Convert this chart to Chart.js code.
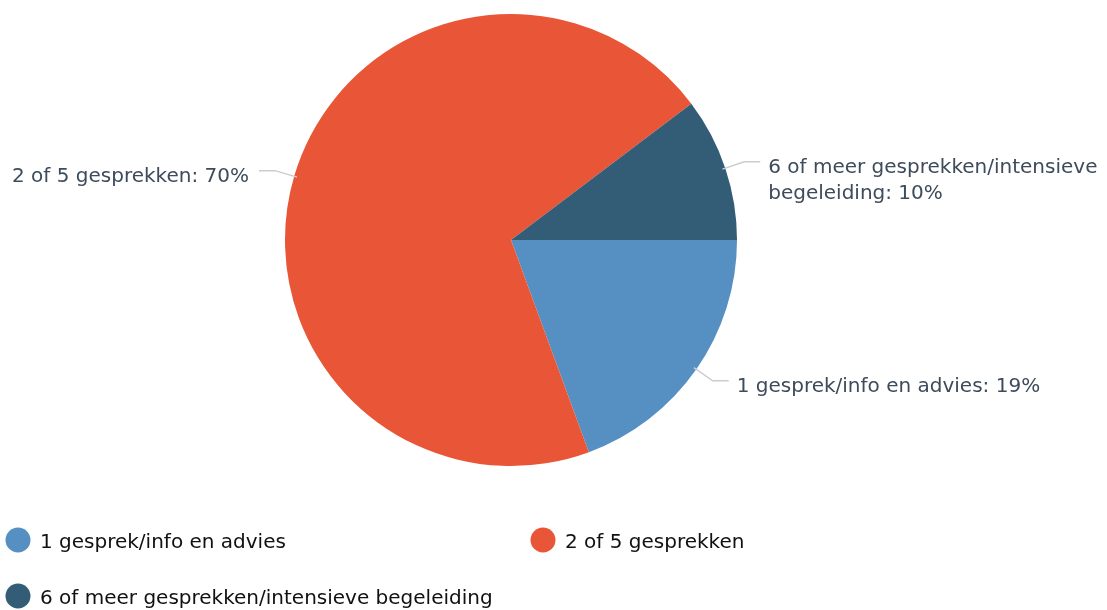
<!DOCTYPE html>
<html><head><meta charset="utf-8">
<script src="https://cdn.jsdelivr.net/npm/chart.js@4/dist/chart.umd.min.js"></script>
<style>html,body{margin:0;padding:0;background:#fff}#wrap{width:1107px;height:610px;position:relative}</style>
</head><body><div id="wrap"><canvas id="c" width="1107" height="610"></canvas></div>
<script>
const categories = ["1 gesprek/info en advies", "2 of 5 gesprekken", "6 of meer gesprekken/intensieve begeleiding"];
const values = [19.4, 70.3, 10.3];
const valueLabels = ["19%", "70%", "10%"];
const colors = ["#568fc2", "#e95637", "#335c77"];

const FONT = "'DejaVu Sans', sans-serif";

const labelPlugin = {
  id: 'leaderLabels',
  afterDatasetsDraw(chart) {
    const ctx = chart.ctx;
    const meta = chart.getDatasetMeta(0);
    ctx.save();
    ctx.font = "20px " + FONT;
    ctx.textBaseline = 'middle';
    meta.data.forEach((arc, i) => {
      const mid = (arc.startAngle + arc.endAngle) / 2;
      const r = arc.outerRadius;
      const cx = arc.x, cy = arc.y;
      const x0 = cx + Math.cos(mid) * (r - 3), y0 = cy + Math.sin(mid) * (r - 3);
      const x1 = cx + Math.cos(mid) * (r + 20), y1 = cy + Math.sin(mid) * (r + 20);
      const right = Math.cos(mid) >= 0;
      const x2 = x1 + (right ? 16 : -16);
      ctx.strokeStyle = '#cccccc';
      ctx.lineWidth = 1.5;
      ctx.beginPath(); ctx.moveTo(x0, y0); ctx.lineTo(x1, y1); ctx.lineTo(x2, y1); ctx.stroke();
      ctx.fillStyle = '#3e4b5b';
      ctx.textAlign = right ? 'left' : 'right';
      const tx = x2 + (right ? 8 : -10);
      const text = categories[i] + ': ' + valueLabels[i];
      const maxW = chart.width - tx - 2;
      if (right && ctx.measureText(text).width > maxW) {
        const words = text.split(' ');
        const lines = []; let cur = '';
        words.forEach(w => {
          const t = cur ? cur + ' ' + w : w;
          if (ctx.measureText(t).width > maxW && cur) { lines.push(cur); cur = w; } else cur = t;
        });
        lines.push(cur);
        lines.forEach((l, k) => ctx.fillText(l, tx, y1 + 6 + k * 26));
      } else {
        ctx.fillText(text, tx, y1 + 6);
      }
    });
    ctx.restore();
  },
  afterDraw(chart) {
    const ctx = chart.ctx;
    ctx.save();
    ctx.font = "20px " + FONT;
    ctx.textBaseline = 'middle';
    ctx.textAlign = 'left';
    const pos = [[18, 540], [543, 540], [18, 596]];
    categories.forEach((c, i) => {
      const [x, y] = pos[i];
      ctx.fillStyle = colors[i];
      ctx.beginPath(); ctx.arc(x, y, 12.5, 0, Math.PI * 2); ctx.fill();
      ctx.fillStyle = '#111111';
      ctx.fillText(c, x + 22, y + 3);
    });
    ctx.restore();
  }
};

new Chart(document.getElementById('c'), {
  type: 'pie',
  data: { labels: categories, datasets: [{ data: values, backgroundColor: colors, borderWidth: 0 }] },
  options: {
    responsive: false,
    animation: false,
    rotation: 90,
    layout: { padding: { left: 285, right: 370, top: 14, bottom: 144 } },
    plugins: { legend: { display: false }, tooltip: { enabled: false } }
  },
  plugins: [labelPlugin]
});
</script></body></html>
